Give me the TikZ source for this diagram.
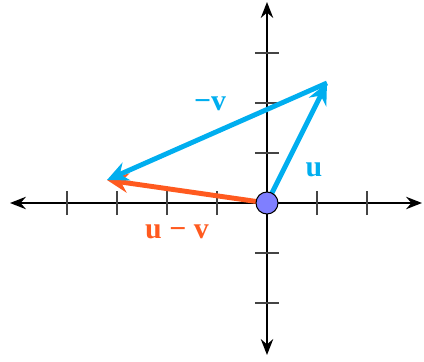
\documentclass[tikz,border=0pt]{standalone}
\usepackage{fontspec}
\setmainfont{Liberation Serif}
\usetikzlibrary{arrows.meta}
\definecolor{vblue}{HTML}{00AEEF}
\definecolor{vorange}{HTML}{FF5A1F}
\definecolor{dotblue}{HTML}{7F7FFF}
\definecolor{tickgray}{HTML}{444444}
\tikzset{
  axis/.style={line width=1.3pt, -{Stealth[length=9pt,width=7pt]}},
  tickmark/.style={line width=0.9pt, tickgray},
  vec/.style={line width=2.8pt, -{Stealth[length=12pt,width=11pt,inset=4pt]}},
  lbl/.style={font=\fontsize{17}{17}\selectfont\bfseries}
}
\begin{document}
\begin{tikzpicture}
\useasboundingbox (-5.34,-3.18) rectangle (3.14,4.06);
\coordinate (O) at (0,0);
\coordinate (U) at (1.2,2.4);
\coordinate (W) at (-3.2,0.46);
\coordinate (xl) at (-5.14,0);
\coordinate (xr) at (3.1,0);
\coordinate (yt) at (0,4.02);
\coordinate (yb) at (0,-3.04);
\draw[axis] (O) -- (xr);
\draw[axis] (O) -- (xl);
\draw[axis] (O) -- (yt);
\draw[axis] (O) -- (yb);
\foreach \x in {-4,-3,-2,-1,1,2} \draw[tickmark] (\x,-0.24) -- (\x,0.24);
\foreach \y in {-2,-1,1,2,3} \draw[tickmark] (-0.24,\y) -- (0.24,\y);
\draw[vec, vorange] (O) -- (W);
\draw[vec, vblue] (O) -- (U);
\draw[vec, vblue] (U) -- (W);
\node[circle, draw=black, line width=0.6pt, fill=dotblue, minimum size=0.44cm, inner sep=0pt] (dot) at (O) {};
\node[lbl, text=vblue] (lv) at (-1.14,1.98) {−v};
\node[lbl, text=vblue] (lu) at (0.94,0.66) {u};
\node[lbl, text=vorange] (luv) at (-1.8,-0.58) {u − v};
\end{tikzpicture}
\end{document}
